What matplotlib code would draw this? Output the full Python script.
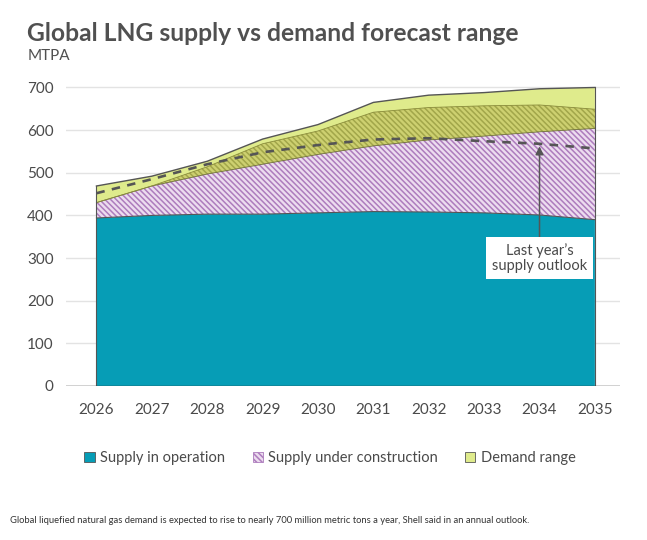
import matplotlib
matplotlib.use("Agg")
import matplotlib.pyplot as plt
from matplotlib.patches import Patch
import numpy as np

plt.rcParams['font.family'] = ['Lato', 'DejaVu Sans']
plt.rcParams['hatch.linewidth'] = 1.1

# data (MTPA)
years = [2026, 2027, 2028, 2029, 2030, 2031, 2032, 2033, 2034, 2035]
in_operation = [394, 400, 403, 403, 406, 409, 408, 406, 401, 390]
under_construction = [36, 69, 111, 165, 192, 233, 245, 251, 258, 259]
demand_low = [430, 469, 497, 520, 543, 563, 577, 586, 596, 604]
demand_high = [469, 492, 527, 579, 613, 665, 682, 688, 697, 700]
last_year_outlook = [452, 485, 520, 548, 565, 578, 581, 574, 568, 557]

legend_labels = ['Supply in operation', 'Supply under construction', 'Demand range']

# colours
teal = '#069db6'
lavender = '#ecdcef'
purple_stripe = '#ad7cbd'
light_green = '#dfeb8c'
olive = '#cdd070'
olive_stripe = '#a2a64a'
dark = '#555555'
text_col = '#4a4a4a'
hatch = '\\' * 6

x = np.array(years)
op = np.array(in_operation)
total = op + np.array(under_construction)
dlo = np.array(demand_low)
dhi = np.array(demand_high)

fig = plt.figure(figsize=(6.47, 5.40), dpi=100)
ax = fig.add_axes([0.102, 0.2852, 0.856, 0.5607])

# gridlines
ax.set_ylim(0, 710)
ax.set_xlim(2025.45, 2035.45)
ax.set_yticks(range(0, 701, 100))
ax.yaxis.grid(True, color='#e3e3e3', lw=1)
ax.set_axisbelow(True)

# supply in operation
ax.fill_between(x, 0, op, facecolor=teal, lw=0, zorder=2)
# supply under construction (hatched)
ax.fill_between(x, op, total, facecolor=lavender, edgecolor=purple_stripe,
                hatch=hatch, lw=0, zorder=2)
# demand range
ax.fill_between(x, dlo, dhi, facecolor=light_green, lw=0, zorder=3)
# overlap of demand range and supply under construction
ax.fill_between(x, dlo, np.minimum(total, dhi), where=total > dlo,
                facecolor=olive, edgecolor=olive_stripe, hatch=hatch,
                lw=0, zorder=3, interpolate=True)

# outlines
ax.plot(x, op, color=dark, lw=0.8, zorder=4)
ax.plot(x, dlo, color='#6e6e40', lw=0.6, zorder=4)
ax.plot(x, np.maximum(total, dlo), color='#8a8c3c', lw=0.6, zorder=4)
ax.plot(x, dhi, color=dark, lw=1.0, zorder=4)
ax.plot([x[0], x[0]], [0, dhi[0]], color=dark, lw=0.8, zorder=4)
ax.plot([x[-1], x[-1]], [0, dhi[-1]], color=dark, lw=0.8, zorder=4)

# last year's outlook
ax.plot(x, last_year_outlook, color=dark, lw=1.9, dashes=(3.2, 2.8), zorder=5)

ax.annotate("Last year\u2019s\nsupply outlook", xy=(years[8], last_year_outlook[8] - 6),
            xytext=(years[8], 300), ha='center', va='center',
            fontsize=10.5, color=text_col, linespacing=1.15, zorder=6,
            bbox=dict(boxstyle='square,pad=0.4', fc='white', ec='none'),
            arrowprops=dict(arrowstyle='-|>', color=dark, lw=1.1,
                            mutation_scale=12, shrinkA=0, shrinkB=0))

ax.axhline(0, color='#333333', lw=1.0, zorder=5)

for s in ax.spines.values():
    s.set_visible(False)
ax.tick_params(axis='both', length=0, labelsize=11, colors=text_col)
ax.tick_params(axis='y', pad=9)
ax.tick_params(axis='x', pad=12)
ax.set_xticks(years)

# legend
handles = [Patch(facecolor=teal, edgecolor=dark, lw=0.6),
           Patch(facecolor=lavender, edgecolor=purple_stripe, hatch=hatch, lw=0.6),
           Patch(facecolor=light_green, edgecolor=dark, lw=0.6)]
leg = fig.legend(handles, legend_labels, loc='center', bbox_to_anchor=(0.51, 0.152),
                 ncol=3, frameon=False, fontsize=10.5, handlelength=0.7,
                 handleheight=0.7, handletextpad=0.35, columnspacing=1.9)
for t in leg.get_texts():
    t.set_color(text_col)

fig.text(0.042, 0.938, "Global LNG supply vs demand forecast range", fontsize=17.7,
         fontweight='bold', color='#505050', va='center')
fig.text(0.042, 0.897, "MTPA", fontsize=11, color='#505050', va='center')
fig.text(0.015, 0.037, "Global liquefied natural gas demand is expected to rise to nearly "
         "700 million metric tons a year, Shell said in an annual outlook.",
         fontsize=6.75, color='#333333', va='center')

fig.savefig('out.png', dpi=100, facecolor='white')
